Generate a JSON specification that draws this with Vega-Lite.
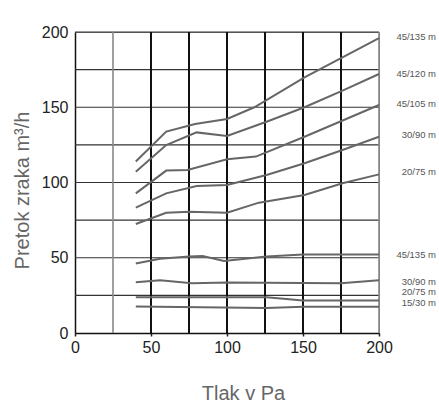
{
  "$schema": "https://vega.github.io/schema/vega-lite/v6.json",
  "width": 304,
  "height": 301,
  "autosize": {"type": "none"},
  "padding": {"left": 75, "top": 32, "right": 60, "bottom": 70},
  "background": "white",
  "config": {
    "view": {"stroke": "#777", "strokeWidth": 1},
    "font": "Liberation Sans"
  },
  "layer": [
    {
      "data": {"values": [{"v": 25}, {"v": 50}, {"v": 75}, {"v": 100}, {"v": 125}, {"v": 150}, {"v": 175}, {"v": 200}]},
      "mark": {"type": "rule", "color": "#333", "strokeWidth": 1.2},
      "encoding": {"y": {"field": "v", "type": "quantitative"}}
    },
    {
      "data": {"values": [{"v": 25}, {"v": 200}]},
      "mark": {"type": "rule", "color": "#888", "strokeWidth": 1.6},
      "encoding": {"x": {"field": "v", "type": "quantitative"}}
    },
    {
      "data": {"values": [{"v": 50}, {"v": 75}, {"v": 100}, {"v": 125}, {"v": 150}, {"v": 175}]},
      "mark": {"type": "rule", "color": "#111", "strokeWidth": 2},
      "encoding": {"x": {"field": "v", "type": "quantitative"}}
    },
    {
      "data": {
        "values": [
          {"s": "u135", "x": 40, "y": 114}, {"s": "u135", "x": 60, "y": 133.8}, {"s": "u135", "x": 79, "y": 138.9}, {"s": "u135", "x": 100, "y": 142.2}, {"s": "u135", "x": 118, "y": 150}, {"s": "u135", "x": 151, "y": 169.9}, {"s": "u135", "x": 200, "y": 196},
          {"s": "u120", "x": 40, "y": 107.2}, {"s": "u120", "x": 60, "y": 124.9}, {"s": "u120", "x": 80, "y": 133.3}, {"s": "u120", "x": 100, "y": 130.9}, {"s": "u120", "x": 126, "y": 140.4}, {"s": "u120", "x": 151, "y": 150}, {"s": "u120", "x": 176, "y": 161}, {"s": "u120", "x": 200, "y": 172.1},
          {"s": "u105", "x": 40, "y": 92.8}, {"s": "u105", "x": 60, "y": 107.9}, {"s": "u105", "x": 74, "y": 108.3}, {"s": "u105", "x": 100, "y": 115.4}, {"s": "u105", "x": 119, "y": 117.2}, {"s": "u105", "x": 151, "y": 130.4}, {"s": "u105", "x": 200, "y": 151.5},
          {"s": "u90", "x": 40, "y": 83.3}, {"s": "u90", "x": 60, "y": 92.8}, {"s": "u90", "x": 80, "y": 97.7}, {"s": "u90", "x": 100, "y": 98.3}, {"s": "u90", "x": 126, "y": 105}, {"s": "u90", "x": 151, "y": 112.8}, {"s": "u90", "x": 176, "y": 121.6}, {"s": "u90", "x": 200, "y": 130.4},
          {"s": "u75", "x": 40, "y": 72.4}, {"s": "u75", "x": 60, "y": 79.9}, {"s": "u75", "x": 75, "y": 80.6}, {"s": "u75", "x": 100, "y": 79.9}, {"s": "u75", "x": 121, "y": 86.6}, {"s": "u75", "x": 151, "y": 91.7}, {"s": "u75", "x": 176, "y": 99.5}, {"s": "u75", "x": 200, "y": 105.4},
          {"s": "l135", "x": 40, "y": 46.2}, {"s": "l135", "x": 56, "y": 49.3}, {"s": "l135", "x": 75, "y": 50.9}, {"s": "l135", "x": 84, "y": 51.1}, {"s": "l135", "x": 98, "y": 47.8}, {"s": "l135", "x": 126, "y": 50.9}, {"s": "l135", "x": 150, "y": 52.2}, {"s": "l135", "x": 200, "y": 52.2},
          {"s": "l90", "x": 40, "y": 33.8}, {"s": "l90", "x": 56, "y": 35.1}, {"s": "l90", "x": 77, "y": 33.1}, {"s": "l90", "x": 100, "y": 33.6}, {"s": "l90", "x": 175, "y": 33.1}, {"s": "l90", "x": 200, "y": 35.1},
          {"s": "l75", "x": 40, "y": 23.8}, {"s": "l75", "x": 126, "y": 23.8}, {"s": "l75", "x": 150, "y": 21.6}, {"s": "l75", "x": 200, "y": 21.6},
          {"s": "l30", "x": 40, "y": 17.6}, {"s": "l30", "x": 126, "y": 16.6}, {"s": "l30", "x": 150, "y": 17.5}, {"s": "l30", "x": 200, "y": 17.4}
        ]
      },
      "mark": {"type": "line", "color": "#666", "strokeWidth": 2},
      "encoding": {
        "x": {
          "field": "x", "type": "quantitative",
          "scale": {"domain": [0, 200], "nice": false},
          "axis": {
            "values": [0, 25, 50, 75, 100, 125, 150, 175, 200],
            "labelExpr": "datum.value % 50 === 0 ? datum.label : ''",
            "grid": false,
            "tickColor": "#222", "tickSize": 3, "tickWidth": 1.5,
            "domainColor": "#111", "domainWidth": 1.5,
            "labelFontSize": 16, "labelColor": "#222", "labelPadding": 3, "labelFlush": false,
            "title": "Tlak v Pa", "titleFontSize": 20, "titleColor": "#666", "titleFontWeight": "normal",
            "titleX": 168, "titleY": 66, "titleBaseline": "alphabetic", "titleAlign": "center"
          }
        },
        "y": {
          "field": "y", "type": "quantitative",
          "scale": {"domain": [0, 200], "nice": false},
          "axis": {
            "values": [0, 50, 100, 150, 200],
            "grid": false,
            "ticks": false,
            "domainColor": "#111", "domainWidth": 1.5,
            "labelFontSize": 16, "labelColor": "#222", "labelPadding": 7,
            "title": "Pretok zraka m³/h", "titleFontSize": 20, "titleColor": "#666", "titleFontWeight": "normal",
            "titleAngle": -90, "titleX": -47, "titleY": 158, "titleBaseline": "alphabetic", "titleAlign": "center"
          }
        },
        "detail": {"field": "s", "type": "nominal"}
      }
    },
    {
      "data": {
        "values": [
          {"label": "45/135 m", "x": 200, "y": 196.7},
          {"label": "45/120 m", "x": 200, "y": 172.3},
          {"label": "45/105 m", "x": 200, "y": 152.4},
          {"label": "30/90 m", "x": 200, "y": 131.3},
          {"label": "20/75 m", "x": 200, "y": 106.9},
          {"label": "45/135 m", "x": 200, "y": 51.5},
          {"label": "30/90 m", "x": 200, "y": 34.2},
          {"label": "20/75 m", "x": 200, "y": 27.0},
          {"label": "15/30 m", "x": 200, "y": 19.8}
        ]
      },
      "mark": {"type": "text", "align": "right", "baseline": "middle", "dx": 57, "fontSize": 9.5, "color": "#555"},
      "encoding": {
        "x": {"field": "x", "type": "quantitative"},
        "y": {"field": "y", "type": "quantitative"},
        "text": {"field": "label", "type": "nominal"}
      }
    }
  ]
}
